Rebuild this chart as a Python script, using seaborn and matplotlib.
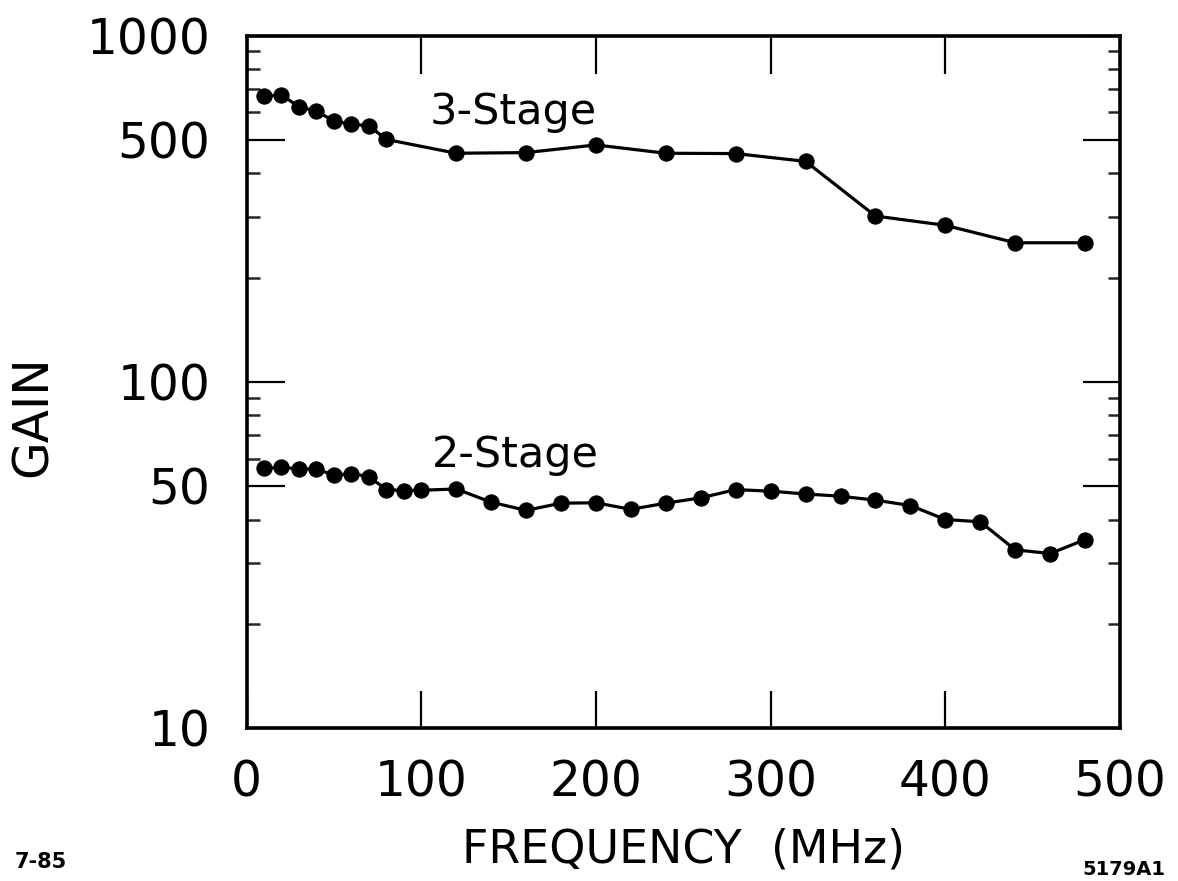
import matplotlib
matplotlib.use("Agg")
import matplotlib.pyplot as plt
import seaborn as sns
from matplotlib.ticker import FixedLocator, NullFormatter

# Data
freq_3 = [10, 20, 30, 40, 50, 60, 70, 80, 120, 160, 200, 240, 280, 320, 360, 400, 440, 480]
gain_3 = [667, 674, 622, 605, 566, 554, 549, 501, 457, 459, 483, 457, 456, 433, 301, 283, 252, 252]

freq_2 = [10, 20, 30, 40, 50, 60, 70, 80, 90, 100,
          120, 140, 160, 180, 200, 220, 240, 260, 280, 300,
          320, 340, 360, 380, 400, 420, 440, 460, 480]
gain_2 = [56.2, 56.6, 56.0, 56.0, 53.7, 54.3, 53.2, 48.8, 48.5, 48.6,
          49.0, 44.9, 42.5, 44.6, 44.7, 42.8, 44.6, 46.2, 48.8, 48.3,
          47.4, 46.7, 45.5, 43.9, 40.0, 39.4, 32.7, 31.9, 35.0]

x_ticks = [0, 100, 200, 300, 400, 500]
y_ticks = [10, 50, 100, 500, 1000]
y_tick_labels = ["10", "50", "100", "500", "1000"]
y_minor = [20, 30, 40, 60, 70, 80, 90, 200, 300, 400, 600, 700, 800, 900]

sns.set_theme(style="ticks")
plt.rcParams["font.family"] = ["DejaVu Sans"]
plt.rcParams["text.color"] = "black"

fig = plt.figure(figsize=(11.78, 8.81), dpi=100)
ax = fig.add_axes([0.2093, 0.1737, 0.7415, 0.786])

line_kw = dict(color="black", marker="o", markersize=11, markeredgecolor="black",
               linewidth=2.3, estimator=None, ax=ax)
sns.lineplot(x=freq_3, y=gain_3, **line_kw)
sns.lineplot(x=freq_2, y=gain_2, **line_kw)

ax.set_yscale("log")
ax.set_xlim(0, 500)
ax.set_ylim(10, 1000)

ax.set_xticks(x_ticks)
ax.set_xticklabels([str(v) for v in x_ticks])
ax.set_yticks(y_ticks)
ax.set_yticklabels(y_tick_labels)
ax.yaxis.set_minor_locator(FixedLocator(y_minor))
ax.yaxis.set_minor_formatter(NullFormatter())

ax.tick_params(axis="both", which="major", direction="in", length=27, width=1.6,
               labelsize=35, colors="black", top=True, right=True)
ax.tick_params(axis="x", which="major", pad=22)
ax.tick_params(axis="y", which="major", pad=26)
ax.tick_params(axis="y", which="minor", direction="in", length=9, width=1.8,
               left=True, right=True)
ax.tick_params(axis="x", which="minor", bottom=False, top=False)

for s in ax.spines.values():
    s.set_linewidth(2.6)
    s.set_color("black")

ax.set_xlabel("FREQUENCY  (MHz)", fontsize=33, labelpad=15, color="black")
ax.set_ylabel("GAIN", fontsize=35, color="black")
ax.yaxis.set_label_coords(-0.217, 0.45)

ax.text(105, 555, "3-Stage", fontsize=31, ha="left", va="baseline", color="black")
ax.text(106, 56.6, "2-Stage", fontsize=31, ha="left", va="baseline", color="black")

fig.text(15 / 1178, 1 - 868 / 881, "7-85", fontsize=15, fontweight="bold",
         ha="left", va="baseline", color="black")
fig.text(1165 / 1178, 1 - 875 / 881, "5179A1", fontsize=14, fontweight="bold",
         ha="right", va="baseline", color="black")

fig.savefig("out.png", dpi=100, facecolor="white")
